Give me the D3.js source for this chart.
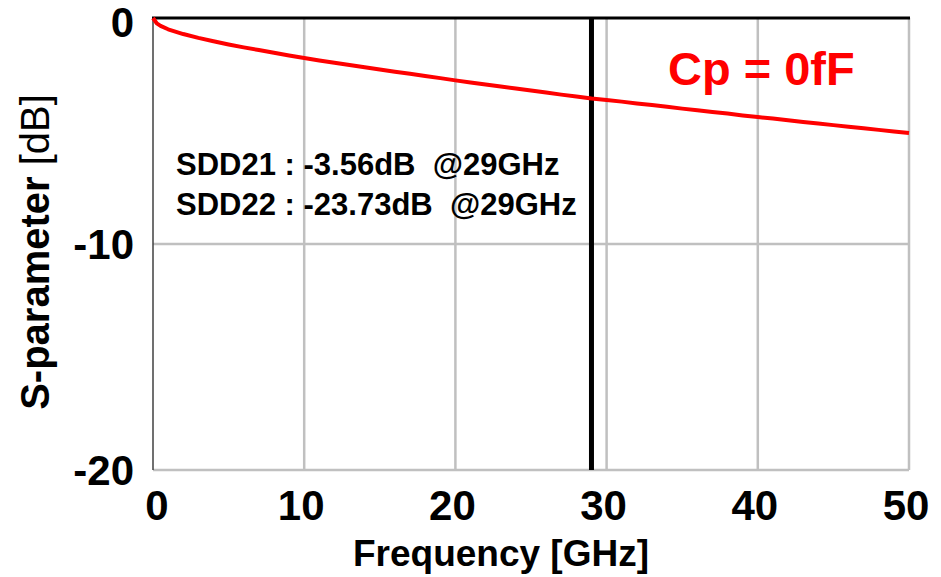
<!DOCTYPE html>
<html>
<head>
<meta charset="utf-8">
<script src="https://cdn.jsdelivr.net/npm/d3@7/dist/d3.min.js"></script>
<style>
  html, body { margin: 0; padding: 0; background: #fff; }
  svg { display: block; font-family: "Liberation Sans", Arial, sans-serif; }
</style>
</head>
<body>
<svg id="chart" width="941" height="577"></svg>
<script>
// ---- data ----
const freqGHz = [0, 0.25, 0.5, 1, 2, 3, 4, 5, 6, 7, 8, 9, 10, 11, 12, 13, 14, 15, 16, 17, 18, 19, 20,
  21, 22, 23, 24, 25, 26, 27, 28, 29, 30, 31, 32, 33, 34, 35, 36, 37, 38, 39, 40,
  41, 42, 43, 44, 45, 46, 47, 48, 49, 50];
const sdd21dB = [0, -0.24, -0.35, -0.50, -0.71, -0.88, -1.03, -1.17, -1.30, -1.42, -1.54, -1.66, -1.77,
  -1.88, -1.98, -2.08, -2.18, -2.28, -2.38, -2.47, -2.57, -2.66, -2.76,
  -2.85, -2.94, -3.03, -3.12, -3.21, -3.30, -3.39, -3.47, -3.56, -3.63, -3.70, -3.78, -3.85, -3.93,
  -4.01, -4.08, -4.16, -4.23, -4.31, -4.38, -4.45, -4.52, -4.60, -4.67, -4.74, -4.81, -4.88,
  -4.95, -5.02, -5.09];
const xTicks = [0, 10, 20, 30, 40, 50];
const yTicks = [0, -10, -20];
const markerFreq = [29];
const annotations = ["SDD21 : -3.56dB  @29GHz", "SDD22 : -23.73dB  @29GHz"];
const legendText = "Cp = 0fF";
const xLabel = "Frequency [GHz]";
const yLabelBold = "S-parameter ";
const yLabelUnit = "[dB]";

// ---- layout ----
const W = 941, H = 577;
const margin = { left: 153, right: 32, top: 18, bottom: 107 };
const x = d3.scaleLinear().domain([0, 50]).range([margin.left, W - margin.right]);
const y = d3.scaleLinear().domain([-20, 0]).range([H - margin.bottom, margin.top]);

const svg = d3.select("#chart");

// grid lines
const grid = svg.append("g");
grid.selectAll("line.vx").data(xTicks.filter(d => d > 0)).join("line")
  .attr("x1", d => x(d)).attr("x2", d => x(d))
  .attr("y1", y(0)).attr("y2", y(-20))
  .attr("stroke", "#c0c0c0").attr("stroke-width", 2.5);
grid.selectAll("line.hy").data(yTicks.filter(d => d < 0)).join("line")
  .attr("x1", x(0)).attr("x2", x(50))
  .attr("y1", d => y(d)).attr("y2", d => y(d))
  .attr("stroke", "#c0c0c0").attr("stroke-width", 2.5);

// left axis line
svg.append("line")
  .attr("x1", x(0)).attr("x2", x(0)).attr("y1", y(0)).attr("y2", y(-20))
  .attr("stroke", "#404040").attr("stroke-width", 1.5);
// top border (black)
svg.append("line")
  .attr("x1", x(0) - 1).attr("x2", x(50) + 1).attr("y1", y(0)).attr("y2", y(0))
  .attr("stroke", "#000").attr("stroke-width", 3);

// marker line
svg.selectAll("line.marker").data(markerFreq).join("line")
  .attr("x1", d => x(d)).attr("x2", d => x(d))
  .attr("y1", y(0)).attr("y2", y(-20))
  .attr("stroke", "#000").attr("stroke-width", 5);

// curve
const line = d3.line().x((d, i) => x(freqGHz[i])).y(d => y(d));
svg.append("path").datum(sdd21dB)
  .attr("d", line)
  .attr("fill", "none").attr("stroke", "#ff0000").attr("stroke-width", 4)
  .attr("stroke-linejoin", "round");

// x tick labels
svg.append("g").selectAll("text").data(xTicks).join("text")
  .attr("x", d => x(d) + (d === 0 ? 4 : -3))
  .attr("y", 520)
  .attr("text-anchor", "middle")
  .attr("font-size", 42).attr("font-weight", "bold").attr("fill", "#000")
  .text(d => d);

// y tick labels
svg.append("g").selectAll("text").data(yTicks).join("text")
  .attr("x", 134)
  .attr("y", d => Math.max(y(d), 22))
  .attr("dy", "0.36em")
  .attr("text-anchor", "end")
  .attr("font-size", 42).attr("font-weight", "bold").attr("fill", "#000")
  .text(d => d);

// axis titles
svg.append("text")
  .attr("x", 501).attr("y", 566)
  .attr("text-anchor", "middle")
  .attr("font-size", 37).attr("font-weight", "bold").attr("fill", "#000")
  .text(xLabel);

const yl = svg.append("text")
  .attr("transform", "translate(49,252) rotate(-90)")
  .attr("text-anchor", "middle")
  .attr("font-size", 40).attr("fill", "#000");
yl.append("tspan").attr("font-weight", "bold").text(yLabelBold);
yl.append("tspan").attr("font-weight", "normal").text(yLabelUnit);

// annotations
svg.append("g").selectAll("text").data(annotations).join("text")
  .attr("x", 176)
  .attr("y", (d, i) => 175 + i * 40)
  .attr("font-size", 31).attr("font-weight", "bold").attr("fill", "#000")
  .attr("xml:space", "preserve")
  .style("white-space", "pre")
  .text(d => d);

// legend text
svg.append("text")
  .attr("x", 668).attr("y", 85)
  .attr("font-size", 47).attr("font-weight", "bold").attr("fill", "#ff0000")
  .text(legendText);
</script>
</body>
</html>
